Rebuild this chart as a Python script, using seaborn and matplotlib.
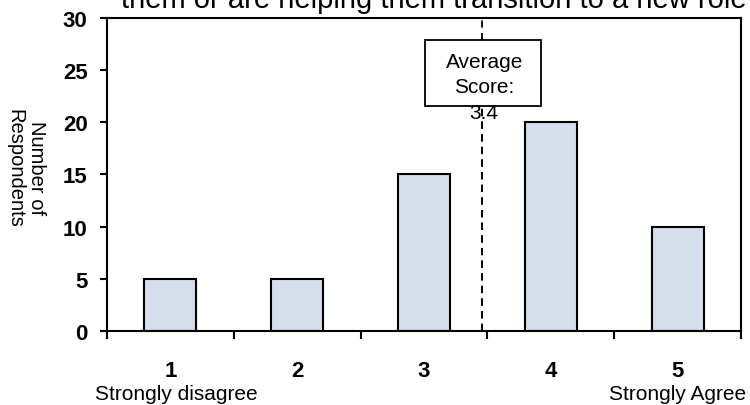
import matplotlib
matplotlib.use("Agg")
import matplotlib.pyplot as plt
import matplotlib.transforms as mtransforms
from matplotlib.patches import Rectangle
from matplotlib.ticker import FixedLocator
import seaborn as sns
import pandas as pd

# Survey responses on a 1-5 agreement scale
scores = [1, 2, 3, 4, 5]
respondents = [5, 5, 15, 20, 10]
y_ticks = [0, 5, 10, 15, 20, 25, 30]
low_label = "Strongly disagree"
high_label = "Strongly Agree"
title_line = "them or are helping them transition to a new role"
y_label = "Number of\nRespondents"

sns.set_theme(style="white")
plt.rcParams["font.family"] = ["Liberation Sans", "DejaVu Sans"]

df = pd.DataFrame({"score": scores, "count": respondents})
avg = sum(s * c for s, c in zip(scores, respondents)) / sum(respondents)
avg_label = f"{int(avg * 10) / 10:.1f}"

fig = plt.figure(figsize=(7.5, 4.06), dpi=100)
ax = fig.add_axes([0.1427, 0.1823, 0.8453, 0.7709])

sns.barplot(data=df, x="score", y="count", native_scale=True, width=0.41,
            color="#D5DEEA", saturation=1, edgecolor="black", linewidth=1.5,
            ax=ax, zorder=2)

ax.set_xlim(scores[0] - 0.5, scores[-1] + 0.5)
ax.set_ylim(y_ticks[0], y_ticks[-1])
ax.set_yticks(y_ticks)
ax.set_yticklabels([str(v) for v in y_ticks], fontsize=16, fontweight="bold")
ax.set_xticks(scores)
ax.set_xticklabels([str(s) for s in scores], fontsize=16, fontweight="bold")
ax.xaxis.set_minor_locator(FixedLocator([s - 0.5 for s in scores] + [scores[-1] + 0.5]))
ax.tick_params(axis="x", which="major", length=0, pad=21, colors="black")
ax.tick_params(axis="x", which="minor", bottom=True, direction="out", length=6,
               width=1.5, color="black")
ax.tick_params(axis="y", which="major", left=True, direction="out", length=5,
               width=1.5, pad=9, colors="black")
ax.set_xlabel("")
ax.set_ylabel("")
for sp in ax.spines.values():
    sp.set_visible(True)
    sp.set_color("black")
    sp.set_linewidth(1.5)

# Average score marker
ax.axvline(avg, color="black", lw=1.3, ls=(0, (4, 3)), zorder=3)
ax.add_patch(Rectangle((avg - 0.45, 21.6), 0.92, 6.3, facecolor="white",
                       edgecolor="black", lw=1.3, zorder=4))
ax.text(avg + 0.02, 23.4, "Average\nScore:\n" + avg_label, ha="center", va="center",
        fontsize=15, linespacing=1.45, zorder=5, color="black")
# the line shows through the value under the box
ax.axvline(avg, ymin=0, ymax=21.6 / 30, color="black", lw=1.3, ls=(0, (4, 3)), zorder=6)

trans = mtransforms.blended_transform_factory(ax.transData, ax.transAxes)
ax.text(scores[0] + 0.05, -0.217, low_label, transform=trans, ha="center",
        va="baseline", fontsize=15, color="black")
ax.text(scores[-1], -0.217, high_label, transform=trans, ha="center",
        va="baseline", fontsize=15, color="black")

fig.text(0.579, 0.980, title_line, ha="center", va="baseline", fontsize=21, color="black")
fig.text(0.034, 0.586, y_label, rotation=270, ha="center", va="center",
         multialignment="center", fontsize=14.5, color="black")

fig.savefig("out.png", dpi=100)
